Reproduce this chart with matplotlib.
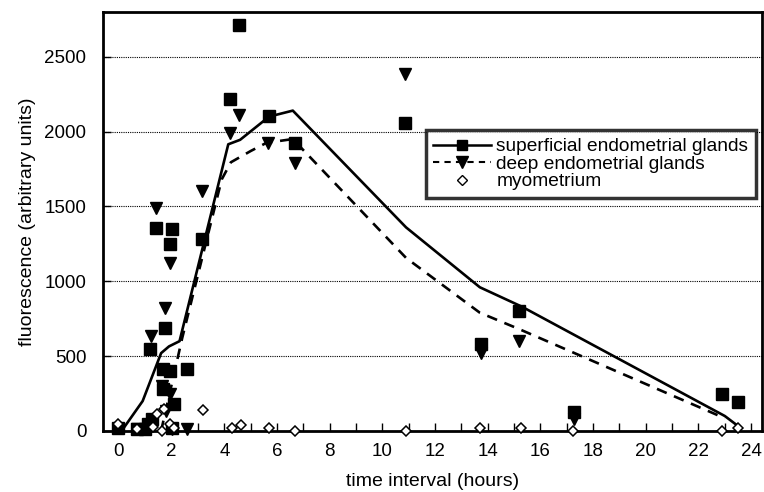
import matplotlib
matplotlib.use("Agg")
import matplotlib.pyplot as plt
from matplotlib.ticker import MultipleLocator

plt.rcParams['font.family'] = ['Liberation Sans', 'DejaVu Sans']

# mean curves (hours, fluorescence)
sup_line_t = [0.1, 0.9, 1.6, 1.9, 2.3, 4.15, 4.6, 5.7, 6.6, 10.9, 13.7, 15.3, 23.0, 23.6]
sup_line_y = [0, 200, 520, 565, 600, 1915, 1945, 2100, 2140, 1360, 960, 830, 100, 20]

deep_line_t = [1.6, 2.4, 3.9, 4.25, 5.0, 5.6, 6.6, 10.9, 13.7, 15.2, 23.0]
deep_line_y = [0, 620, 1680, 1795, 1870, 1925, 1950, 1156, 790, 680, 85]

# individual measurements
sup_t = [-0.05, 0.7, 1.0, 1.1, 1.25, 1.17, 1.4, 1.74, 1.67, 1.67, 1.93, 1.93, 2.0,
         2.0, 2.1, 2.6, 3.14, 4.2, 4.55, 5.68, 6.67, 10.87, 13.75, 15.2, 17.27, 22.9, 23.5]
sup_y = [20, 15, 10, 45, 80, 548, 1357, 690, 414, 280, 400, 1250, 1350,
         20, 180, 414, 1283, 2220, 2714, 2105, 1925, 2060, 580, 800, 125, 247, 193]

deep_t = [0.7, 1.1, 1.2, 1.4, 1.63, 1.74, 1.8, 1.93, 1.93, 2.0, 2.6, 3.15, 4.2, 4.55,
          5.64, 6.67, 10.84, 13.75, 15.2, 17.27]
deep_y = [10, 10, 635, 1490, 300, 822, 134, 247, 1123, 10, 10, 1605, 1993, 2110,
          1925, 1790, 2386, 520, 600, 80]

myo_t = [-0.05, 0.7, 1.3, 1.45, 1.63, 1.7, 1.93, 2.1, 3.2, 4.28, 4.65, 5.7, 6.67,
         10.9, 13.7, 15.25, 17.25, 22.9, 23.5]
myo_y = [50, 10, 30, 113, 0, 147, 47, 20, 140, 20, 40, 20, 0,
         0, 20, 20, 0, 0, 20]

fig = plt.figure(figsize=(7.64, 4.92), dpi=100)
ax = fig.add_axes([0.135, 0.124, 0.862, 0.852])

# lines
ax.plot(sup_line_t, sup_line_y, color='black', lw=1.9, zorder=3)
ax.plot(deep_line_t, deep_line_y, color='black', lw=1.9, ls=(0, (4, 3)), zorder=3)

# points
ax.plot(sup_t, sup_y, ls='none', marker='s', ms=8, color='black', clip_on=False, zorder=4)
ax.plot(deep_t, deep_y, ls='none', marker='v', ms=9, color='black', clip_on=False, zorder=4)
ax.plot(myo_t, myo_y, ls='none', marker='D', ms=5.5, mfc='white', mec='black', mew=1.1,
        clip_on=False, zorder=5)

# legend handles
h1, = ax.plot([], [], color='black', lw=1.8, marker='s', ms=7)
h2, = ax.plot([], [], color='black', lw=1.5, ls=(0, (3, 2.5)), marker='v', ms=8)
h3, = ax.plot([], [], ls='none', marker='D', ms=5, mfc='white', mec='black', mew=1)
leg = ax.legend([h1, h2, h3],
                ['superficial endometrial glands', 'deep endometrial glands', 'myometrium'],
                loc='upper left', bbox_to_anchor=(0.475, 0.74), fontsize=13.8,
                frameon=True, fancybox=False, shadow=False, handlelength=3.0,
                handletextpad=0.3, labelspacing=0.0, borderpad=0.4)
leg.get_frame().set_edgecolor('black')
leg.get_frame().set_linewidth(2.5)

ax.set_xlim(-0.6, 24.4)
ax.set_ylim(0, 2800)
ax.set_xticks(range(0, 25, 2))
ax.xaxis.set_minor_locator(MultipleLocator(1))
ax.set_yticks([0, 500, 1000, 1500, 2000, 2500])
ax.tick_params(direction='in', length=6, width=1, labelsize=13.5, pad=9)
ax.tick_params(which='minor', direction='in', length=6, width=1)
ax.tick_params(axis='y', pad=12)

ax.yaxis.grid(True, ls=(0, (1, 1)), color='black', lw=0.8)
ax.set_axisbelow(True)

for s in ax.spines.values():
    s.set_linewidth(2)

ax.set_xlabel('time interval (hours)', fontsize=14, labelpad=9)
ax.set_ylabel('fluorescence (arbitrary units)', fontsize=14, labelpad=6)

fig.savefig('out.png', dpi=100)
